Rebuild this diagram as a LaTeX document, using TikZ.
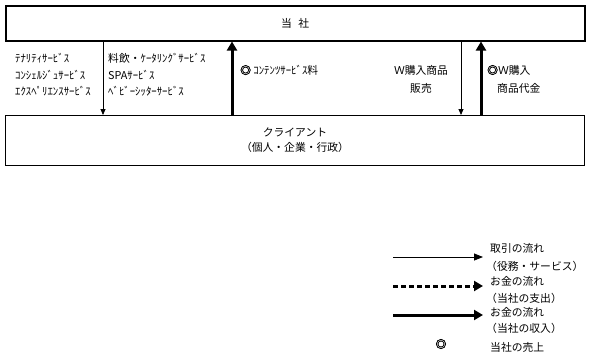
\documentclass[tikz,border=0pt]{standalone}
\usepackage{fontspec}
\setmainfont{Noto Sans CJK JP}
\newfontfamily\markfont[FakeBold=3]{Noto Sans CJK JP}
\usetikzlibrary{arrows.meta}
\begin{document}
\begin{tikzpicture}[x=1pt,y=-1pt,
  every node/.style={font=\fontsize{10.8}{12}\selectfont, inner sep=0pt},
  boxstyle/.style={draw, line width=1.5pt, minimum width=579pt, anchor=north west},
  thinarrow/.style={line width=0.8pt, -{Triangle[length=6pt,width=5pt]}},
  thickarrow/.style={line width=3pt, -{Triangle[length=9pt,width=10pt]}},
  dasharrow/.style={line width=3pt, dash pattern=on 5pt off 3pt, -{Triangle[length=9pt,width=10pt]}},
  lbl/.style={anchor=west},
  ctr/.style={anchor=center}]
\useasboundingbox (0,0) rectangle (590,360);
\node[boxstyle, minimum height=35pt] (top) at (5,5) {当\hspace{0.6em}社};
\node[boxstyle, line width=1pt, minimum height=50pt, align=center] (client) at (5,115) {クライアント\\[3pt]（個人・企業・行政）};

\draw[thinarrow] (103,0 |- top.south) -- (103,0 |- client.north);
\draw[thickarrow] (232,0 |- client.north) -- (232,0 |- top.south);
\draw[thinarrow] (461,0 |- top.south) -- (461,0 |- client.north);
\draw[thickarrow] (481,0 |- client.north) -- (481,0 |- top.south);

\node[lbl] (t1) at (15,58) {ﾃﾅﾘﾃｨｻｰﾋﾞｽ};
\node[lbl] (t2) at (15,75) {ｺﾝｼｪﾙｼﾞｭｻｰﾋﾞｽ};
\node[lbl] (t3) at (15,91) {ｴｸｽﾍﾟﾘｴﾝｽｻｰﾋﾞｽ};
\node[lbl] (t4) at (108,58) {料飲・ｹｰﾀﾘﾝｸﾞｻｰﾋﾞｽ};
\node[lbl] (t5) at (108,75) {SPAｻｰﾋﾞｽ};
\node[lbl] (t6) at (108,91) {ﾍﾞﾋﾞｰｼｯﾀｰｻｰﾋﾞｽ};
\node[lbl] (t7) at (240,70) {{\markfont ◎} ｺﾝﾃﾝﾂｻｰﾋﾞｽ料};
\node[ctr] (t8) at (421,70) {Ｗ購入商品};
\node[ctr] (t9) at (421,88) {販売};
\node[lbl] (t10) at (487,70) {{\markfont ◎}Ｗ購入};
\node[lbl] (t11) at (497,88) {商品代金};

\coordinate (a1) at (393,257); \coordinate (b1) at (483,257);
\coordinate (a2) at (393,286); \coordinate (b2) at (483,286);
\coordinate (a3) at (393,315); \coordinate (b3) at (483,315);
\draw[line width=0.8pt, -{Triangle[length=9pt,width=7pt]}] (a1) -- (b1);
\draw[dasharrow] (a2) -- (b2);
\draw[thickarrow] (a3) -- (b3);
\node[ctr] (mk) at (441,344) {\markfont ◎};
\node[lbl] (l1) at (490,248) {取引の流れ};
\node[lbl] (l2) at (486,266) {（役務・サービス）};
\node[lbl] (l3) at (490,281) {お金の流れ};
\node[lbl] (l4) at (486,298) {（当社の支出）};
\node[lbl] (l5) at (490,312) {お金の流れ};
\node[lbl] (l6) at (486,328) {（当社の収入）};
\node[lbl] (l7) at (490,347) {当社の売上};
\end{tikzpicture}
\end{document}
